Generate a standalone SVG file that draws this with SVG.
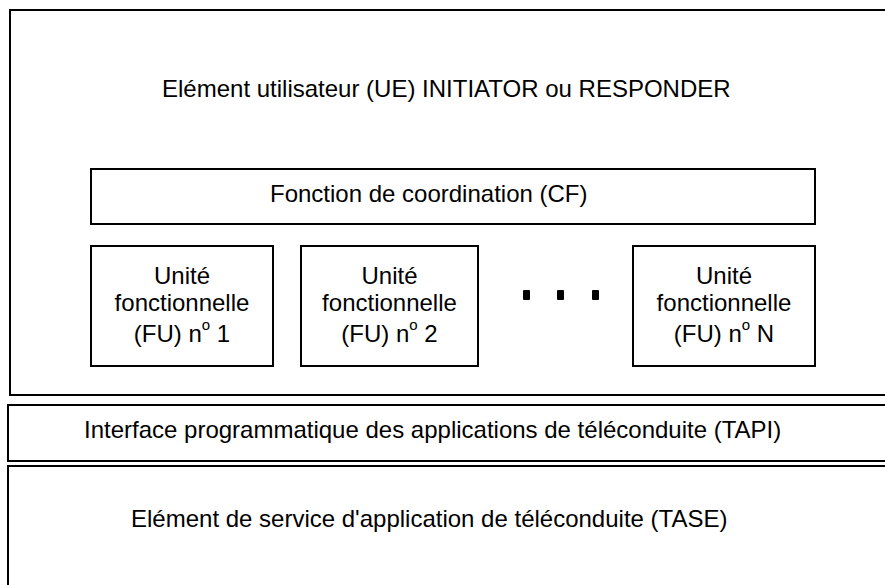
<svg xmlns="http://www.w3.org/2000/svg" width="885" height="585" viewBox="0 0 885 585">
<style>
.box{fill:#fff;stroke:#000;stroke-width:2}
.t{font-family:"Liberation Sans",Arial,sans-serif;font-size:24px;fill:#000}
.c{text-anchor:middle}
.sup{font-size:15px}
.dot{fill:#000}
</style>
<rect width="885" height="585" fill="#fff"/>
<g id="ue">
<rect class="box" x="10" y="10" width="885" height="385"/>
<text class="t" x="162" y="97">Elément utilisateur (UE) INITIATOR ou RESPONDER</text>
</g>
<g id="cf">
<rect class="box" x="91" y="169" width="724" height="55"/>
<text class="t" x="270" y="202">Fonction de coordination (CF)</text>
</g>
<g id="fu1">
<rect class="box" x="91" y="246" width="182" height="120"/>
<text class="t c" x="182" y="284">Unité</text>
<text class="t c" x="182" y="311">fonctionnelle</text>
<text class="t c" x="182" y="342">(FU) n<tspan class="sup" dy="-12">o</tspan><tspan dy="12"> 1</tspan></text>
</g>
<g id="fu2">
<rect class="box" x="301" y="246" width="177" height="120"/>
<text class="t c" x="389.5" y="284">Unité</text>
<text class="t c" x="389.5" y="311">fonctionnelle</text>
<text class="t c" x="389.5" y="342">(FU) n<tspan class="sup" dy="-12">o</tspan><tspan dy="12"> 2</tspan></text>
</g>
<g id="ellipsis">
<rect class="dot" x="523" y="290" width="7" height="10" rx="1"/>
<rect class="dot" x="557" y="290" width="7" height="10" rx="1"/>
<rect class="dot" x="592" y="290" width="7" height="10" rx="1"/>
</g>
<g id="fun">
<rect class="box" x="633" y="246" width="182" height="120"/>
<text class="t c" x="724" y="284">Unité</text>
<text class="t c" x="724" y="311">fonctionnelle</text>
<text class="t c" x="724" y="342">(FU) n<tspan class="sup" dy="-12">o</tspan><tspan dy="12"> N</tspan></text>
</g>
<g id="tapi">
<rect class="box" x="8" y="405" width="890" height="56"/>
<text class="t" x="84" y="438">Interface programmatique des applications de téléconduite (TAPI)</text>
</g>
<g id="tase">
<rect class="box" x="8" y="466" width="890" height="140"/>
<text class="t" x="131" y="527">Elément de service d'application de téléconduite (TASE)</text>
</g>
<g id="connectors"/>
</svg>
